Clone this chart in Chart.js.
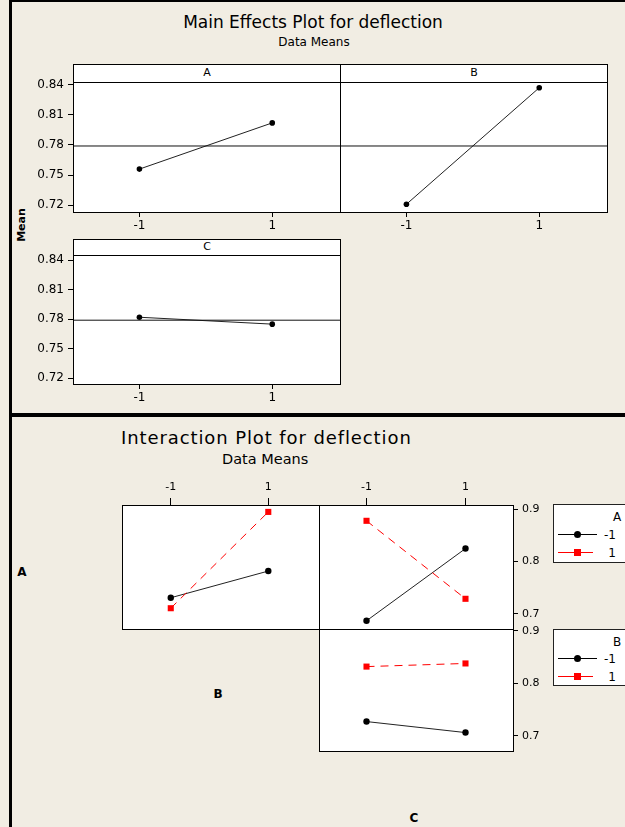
<!DOCTYPE html>
<html>
<head>
<meta charset="utf-8">
<script src="https://cdn.jsdelivr.net/npm/chart.js@4.4.1/dist/chart.umd.min.js"></script>
<style>
  body { margin: 0; background: #f1ede3; }
  #page { position: relative; width: 625px; height: 827px; overflow: hidden; background: #f1ede3;
          font-family: "DejaVu Sans", sans-serif; color: #000; }
  #page canvas { position: absolute; }
  .rule { position: absolute; background: #000; }
  .txt { position: absolute; white-space: nowrap; line-height: 1; }
  .strip { position: absolute; background: #fff; border: 1px solid #000; box-sizing: border-box;
           text-align: center; font-size: 11px; line-height: 15px; }
  .legend { position: absolute; width: 90px; background: #fff; border: 1px solid #222; box-sizing: border-box; }
  .legend .txt { font-size: 12px; }
  .sym { position: absolute; left: 4px; width: 39px; height: 1px; }
  .mk { position: absolute; top: -3px; left: 16px; width: 7px; height: 7px; }
</style>
</head>
<body>
<div id="page">
  <div class="rule" style="left:9px;top:0;width:616px;height:2px"></div>
  <div class="rule" style="left:9px;top:0;width:3px;height:827px"></div>
  <div class="rule" style="left:9px;top:413px;width:616px;height:4px"></div>

  <div class="txt" style="left:313px;top:14px;font-size:17px;transform:translateX(-50%)">Main Effects Plot for deflection</div>
  <div class="txt" style="left:314px;top:36px;font-size:12px;transform:translateX(-50%)">Data Means</div>
  <div class="txt" style="left:21px;top:225px;font-size:11px;font-weight:bold;transform:translate(-50%,-50%) rotate(-90deg)">Mean</div>

  <div class="strip" style="left:73px;top:64px;width:268px;height:19px">A</div>
  <div class="strip" style="left:340px;top:64px;width:268px;height:19px">B</div>
  <div class="strip" style="left:73px;top:239px;width:268px;height:17px;line-height:13px">C</div>

  <div class="txt" style="left:121px;top:429px;font-size:18px;letter-spacing:0.9px">Interaction Plot for deflection</div>
  <div class="txt" style="left:222px;top:452px;font-size:14.5px">Data Means</div>

  <div class="txt" style="left:22px;top:572px;font-size:12px;font-weight:bold;transform:translate(-50%,-50%)">A</div>
  <div class="txt" style="left:218px;top:694px;font-size:12px;font-weight:bold;transform:translate(-50%,-50%)">B</div>
  <div class="txt" style="left:414px;top:818px;font-size:12px;font-weight:bold;transform:translate(-50%,-50%)">C</div>

  <div class="legend" style="left:553px;top:504px;height:59px">
    <div class="txt" style="left:59px;top:6px">A</div>
    <div class="sym" style="top:29px;background:#000"><div class="mk" style="background:#000;border-radius:50%"></div></div>
    <div class="txt" style="right:26px;top:24px">-1</div>
    <div class="sym" style="top:47px;background:#f00;width:35px"><div class="mk" style="background:#f00"></div></div>
    <div class="txt" style="right:26px;top:42px">1</div>
  </div>
  <div class="legend" style="left:553px;top:629px;height:57px">
    <div class="txt" style="left:59px;top:6px">B</div>
    <div class="sym" style="top:28px;background:#000"><div class="mk" style="background:#000;border-radius:50%"></div></div>
    <div class="txt" style="right:26px;top:23px">-1</div>
    <div class="sym" style="top:46px;background:#f00;width:35px"><div class="mk" style="background:#f00"></div></div>
    <div class="txt" style="right:26px;top:41px">1</div>
  </div>
</div>

<script>
// factor levels and tick values
const levels = [-1, 1];
const mainYTicks = [0.72, 0.75, 0.78, 0.81, 0.84];
const intYTicks = [0.7, 0.8, 0.9];

// main effects means
const meanA = [0.756, 0.802];
const meanB = [0.721, 0.837];
const meanC = [0.782, 0.775];
const grandMean = 0.779;

// interaction means (first factor level -1 / 1, across second factor)
const abAlow = [0.731, 0.782];
const abAhigh = [0.711, 0.895];
const acAlow = [0.687, 0.825];
const acAhigh = [0.878, 0.729];
const bcBlow = [0.727, 0.706];
const bcBhigh = [0.832, 0.838];

const page = document.getElementById('page');
const FONT = 'DejaVu Sans';

const framePlugin = {
  id: 'frame',
  beforeDraw(chart) {
    const a = chart.chartArea, c = chart.ctx;
    c.save();
    c.fillStyle = '#fff';
    c.fillRect(a.left, a.top, a.width, a.height);
    c.restore();
  },
  afterDraw(chart) {
    const a = chart.chartArea, c = chart.ctx;
    c.save();
    c.strokeStyle = '#000';
    c.lineWidth = 1;
    c.strokeRect(Math.round(a.left) + 0.5, Math.round(a.top) + 0.5, Math.round(a.width), Math.round(a.height));
    c.restore();
  }
};

function pts(values) {
  return levels.map((x, i) => ({ x: x, y: values[i] }));
}

function blackSeries(values, r) {
  return { data: pts(values), borderColor: '#222', borderWidth: 1, pointRadius: r,
           pointBackgroundColor: '#000', pointBorderColor: '#000', pointBorderWidth: 0 };
}
function redSeries(values) {
  return { data: pts(values), borderColor: '#f00', borderWidth: 1, borderDash: [8, 6],
           pointStyle: 'rect', pointRadius: 4.3, pointBackgroundColor: '#f00',
           pointBorderColor: '#f00', pointBorderWidth: 0 };
}
function meanLine(xr) {
  return { data: [{ x: xr[0], y: grandMean }, { x: xr[1], y: grandMean }],
           borderColor: '#111', borderWidth: 1, pointRadius: 0 };
}

function fixSize(s, w, h) {
  if (w !== null) s.width = w;
  if (h !== null) s.height = h;
  s.paddingTop = s.paddingBottom = s.paddingLeft = s.paddingRight = 0;
}

// rect = plot area on the page [left, top, right, bottom]
function panel(rect, cfg) {
  const m = { l: cfg.yLeft ? 60 : 8, r: cfg.yRight ? 40 : 8,
              t: cfg.xTop ? 26 : 8, b: cfg.xBottom ? 22 : 8 };
  const cv = document.createElement('canvas');
  cv.width = rect[2] - rect[0] + m.l + m.r;
  cv.height = rect[3] - rect[1] + m.t + m.b;
  cv.style.left = (rect[0] - m.l) + 'px';
  cv.style.top = (rect[1] - m.t) + 'px';
  page.appendChild(cv);

  const showX = !!(cfg.xTop || cfg.xBottom);
  const showY = !!(cfg.yLeft || cfg.yRight);
  new Chart(cv, {
    type: 'line',
    data: { datasets: cfg.datasets },
    options: {
      responsive: false,
      animation: false,
      devicePixelRatio: 1,
      layout: { autoPadding: false, padding: {
        left: cfg.yLeft ? 0 : m.l, right: cfg.yRight ? 0 : m.r,
        top: cfg.xTop ? 0 : m.t, bottom: cfg.xBottom ? 0 : m.b } },
      plugins: { legend: { display: false }, tooltip: { enabled: false } },
      scales: {
        x: {
          type: 'linear', display: showX, position: cfg.xTop ? 'top' : 'bottom',
          min: cfg.xr[0], max: cfg.xr[1],
          afterBuildTicks: s => { s.ticks = levels.map(v => ({ value: v })); },
          afterFit: s => fixSize(s, null, showX ? (cfg.xTop ? m.t : m.b) : 0),
          grid: { drawOnChartArea: false, color: '#000', tickLength: cfg.xTop ? 7 : 5 },
          border: { display: false },
          ticks: { color: '#000', font: { family: FONT, size: cfg.fs }, padding: cfg.xTop ? 4 : 2,
                   autoSkip: false, maxRotation: 0, callback: v => String(v) }
        },
        y: {
          type: 'linear', display: showY, position: cfg.yRight ? 'right' : 'left',
          min: cfg.yr[0], max: cfg.yr[1],
          afterBuildTicks: s => { s.ticks = cfg.yTicks.map(v => ({ value: v })); },
          afterFit: s => fixSize(s, showY ? (cfg.yRight ? m.r : m.l) : 0, null),
          grid: { drawOnChartArea: false, color: '#000', tickLength: 5 },
          border: { display: false },
          ticks: { color: '#000', font: { family: FONT, size: cfg.fs }, padding: 4,
                   autoSkip: false, callback: v => v.toFixed(cfg.dec) }
        }
      }
    },
    plugins: [framePlugin]
  });
}

// main effects plot
const mxr = [-2, 2.02];
const myr = [0.7133, 0.8427];
panel([73, 82, 340, 212], { xr: mxr, yr: myr, yTicks: mainYTicks, dec: 2, fs: 12, yLeft: true, xBottom: true,
  datasets: [meanLine(mxr), blackSeries(meanA, 2.8)] });
panel([340, 82, 607, 212], { xr: mxr, yr: myr, yTicks: mainYTicks, dec: 2, fs: 12, xBottom: true,
  datasets: [meanLine(mxr), blackSeries(meanB, 2.8)] });
panel([73, 255, 340, 384], { xr: mxr, yr: [0.7142, 0.8452], yTicks: mainYTicks, dec: 2, fs: 12, yLeft: true, xBottom: true,
  datasets: [meanLine(mxr), blackSeries(meanC, 2.8)] });

// interaction plot
panel([122, 505, 319, 629], { xr: [-2, 2.04], yr: [0.6713, 0.9082], yTicks: intYTicks, dec: 1, fs: 11, xTop: true,
  datasets: [redSeries(abAhigh), blackSeries(abAlow, 3.2)] });
panel([319, 505, 513, 629], { xr: [-1.96, 1.96], yr: [0.6713, 0.9082], yTicks: intYTicks, dec: 1, fs: 11, xTop: true, yRight: true,
  datasets: [redSeries(acAhigh), blackSeries(acAlow, 3.2)] });
panel([319, 629, 513, 751], { xr: [-1.96, 1.96], yr: [0.6708, 0.9038], yTicks: intYTicks, dec: 1, fs: 11, yRight: true,
  datasets: [redSeries(bcBhigh), blackSeries(bcBlow, 3.2)] });
</script>
</body>
</html>
